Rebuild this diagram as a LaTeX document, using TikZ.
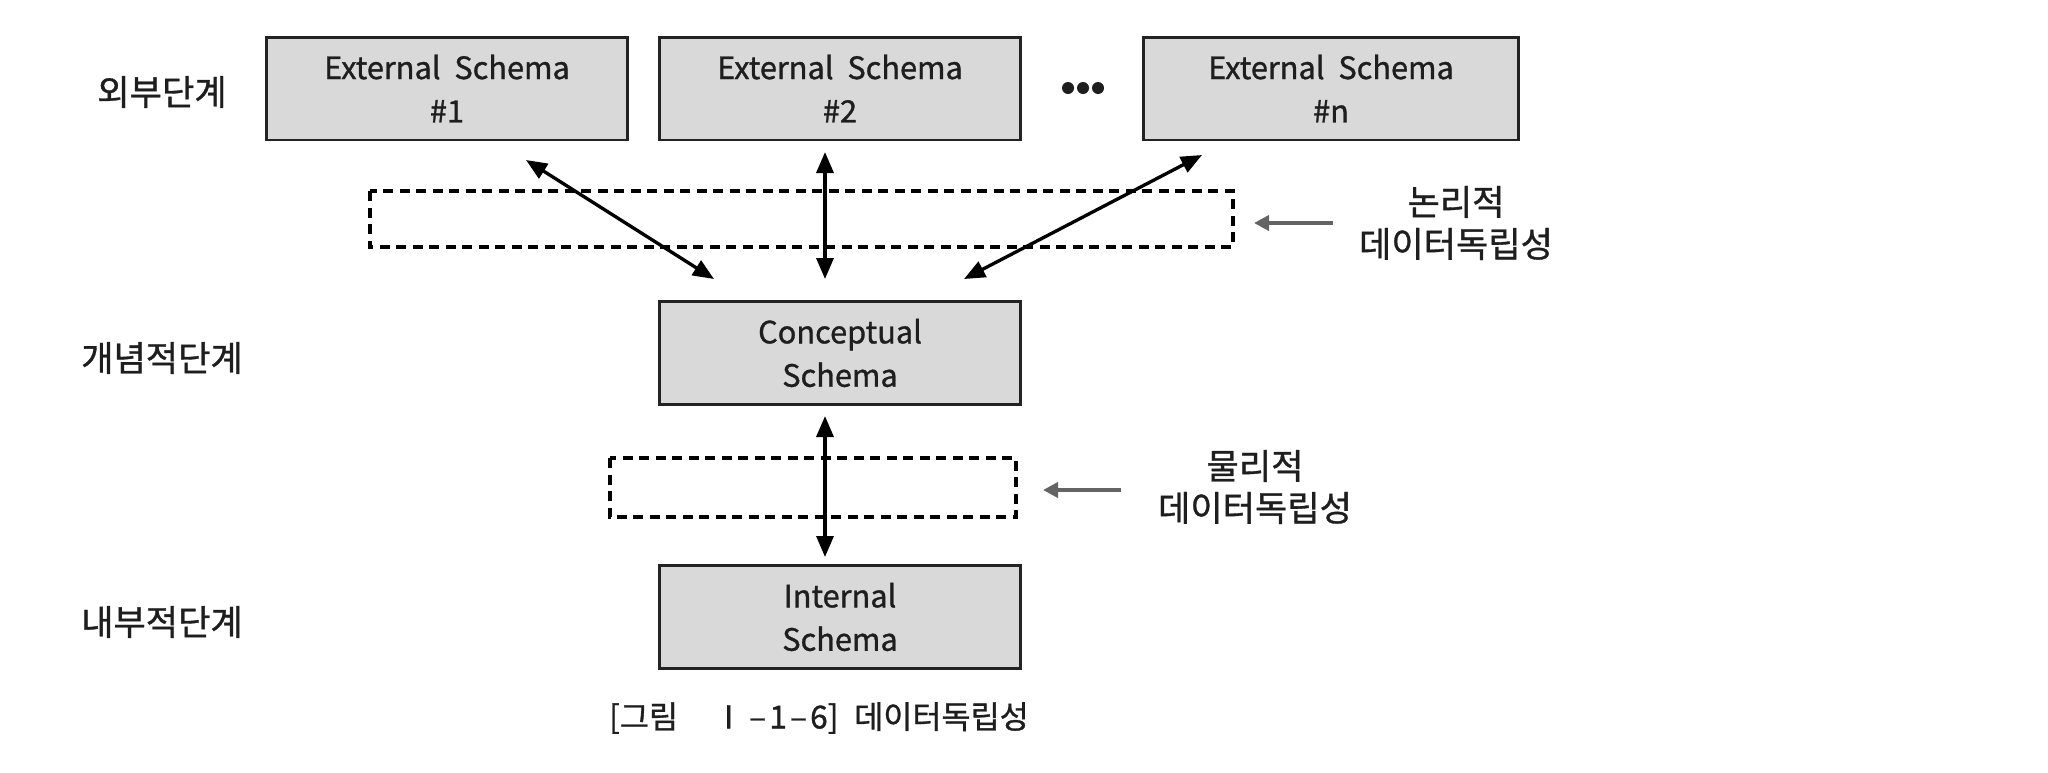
\documentclass[tikz,border=0pt]{standalone}
\usepackage{fontspec}
\setmainfont{Noto Sans CJK KR}[FakeBold=1]
\usetikzlibrary{arrows.meta}
\definecolor{boxfill}{RGB}{217,217,217}
\definecolor{boxline}{RGB}{35,35,35}
\definecolor{txt}{RGB}{30,30,30}
\definecolor{grayarrow}{RGB}{100,100,100}
\begin{document}
\begin{tikzpicture}[x=0.02cm,y=-0.02cm,
  schemabox/.style={draw=boxline,line width=1.7pt,fill=boxfill,text=txt,minimum width=7.24cm,minimum height=2.06cm,inner sep=0pt,align=center,font=\fontsize{17.5}{24.7}\selectfont},
  levellabel/.style={font=\fontsize{20}{24}\selectfont,text=txt,inner sep=0pt},
  sidelabel/.style={font=\fontsize{20}{23.9}\selectfont,text=txt,align=center,inner sep=0pt},
  dashbox/.style={draw=black,line width=2.3pt,dash pattern=on 0.2cm off 0.13cm},
  biarrow/.style={line width=1.9pt,{Triangle[length=0.42cm,width=0.34cm]}-{Triangle[length=0.42cm,width=0.34cm]}},
  grayarr/.style={draw=grayarrow,line width=2.2pt,-{Triangle[length=0.3cm,width=0.3cm]}}]
\useasboundingbox (0,0) rectangle (2048,772);
% dashed boxes (drawn first)
\draw[dashbox] (370,191) rectangle (1233,247);
\draw[dashbox] (610,458) rectangle (1016,517);
% schema boxes
\node[schemabox] (e1) at (447,88.5) {External\ \ Schema\\\#1};
\node[schemabox] (e2) at (840,88.5) {External\ \ Schema\\\#2};
\node[schemabox,minimum width=7.52cm] (en) at (1331,88.5) {External\ \ Schema\\\#n};
\node[schemabox] (cs) at (840,353) {Conceptual\\Schema};
\node[schemabox] (is) at (840,617) {Internal\\Schema};
% dots
\fill[txt] (1068,88) circle (6) (1083,88) circle (6) (1098,88) circle (6);
% level labels
\node[levellabel] (l1) at (162,92) {외부단계};
\node[levellabel] (l2) at (162,358) {개념적단계};
\node[levellabel] (l3) at (162,622) {내부적단계};
% side labels
\node[sidelabel] (logi) at (1456,223) {논리적\\데이터독립성};
\node[sidelabel] (phys) at (1255,487) {물리적\\데이터독립성};
% caption
\node[font=\fontsize{18}{22}\selectfont,text=txt,inner sep=0pt] (cap) at (819,718) {[그림\hspace{1.1em}Ⅰ\hspace{0.15em}–\hspace{0.1em}1\hspace{0.1em}–\hspace{0.1em}6]\hspace{0.5em}데이터독립성};
% arrow endpoints
\coordinate (a1s) at (526,160);
\coordinate (a1e) at (714,279);
\coordinate (a2s) at (825,152);
\coordinate (a2e) at (825,279);
\coordinate (a3s) at (1202,155);
\coordinate (a3e) at (964,279);
\coordinate (a4s) at (825,416);
\coordinate (a4e) at (825,557);
\draw[biarrow] (a1s) -- (a1e);
\draw[biarrow] (a2s) -- (a2e);
\draw[biarrow] (a3s) -- (a3e);
\draw[biarrow] (a4s) -- (a4e);
% gray arrows
\coordinate (g1s) at (1333,223);
\coordinate (g1e) at (1254,223);
\coordinate (g2s) at (1121,490);
\coordinate (g2e) at (1043,490);
\draw[grayarr] (g1s) -- (g1e);
\draw[grayarr] (g2s) -- (g2e);
\end{tikzpicture}
\end{document}
